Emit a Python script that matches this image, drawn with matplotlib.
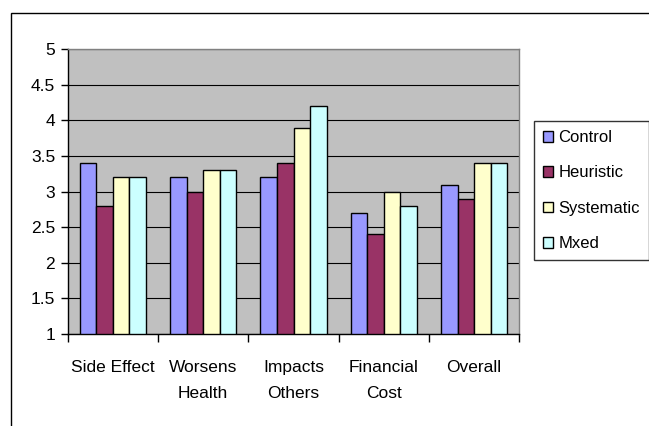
import matplotlib
matplotlib.use("Agg")
import matplotlib.pyplot as plt
import numpy as np
from matplotlib.patches import Rectangle

plt.rcParams['font.family'] = ['Liberation Sans', 'DejaVu Sans']

categories = ["Side Effect", "Worsens\nHealth", "Impacts\nOthers", "Financial\nCost", "Overall"]
series_names = ["Control", "Heuristic", "Systematic", "Mxed"]
control = [3.4, 3.2, 3.2, 2.7, 3.1]
heuristic = [2.8, 3.0, 3.4, 2.4, 2.9]
systematic = [3.2, 3.3, 3.9, 3.0, 3.4]
mixed = [3.2, 3.3, 4.2, 2.8, 3.4]
colors = ["#9999FF", "#993366", "#FFFFCC", "#CCFFFF"]
yticks = [1, 1.5, 2, 2.5, 3, 3.5, 4, 4.5, 5]
ytick_labels = ["1", "1.5", "2", "2.5", "3", "3.5", "4", "4.5", "5"]

FS = 12.5
W, H = 649, 426
fig = plt.figure(figsize=(W / 100, H / 100), dpi=100)
fig.patch.set_facecolor("white")

# outer chart border (right/bottom clipped off the image)
fig.patches.append(Rectangle((11 / W, -0.1), 1.2, 1 - 13 / H + 0.1, transform=fig.transFigure,
                             fill=False, edgecolor="black", linewidth=1.0))

left, right, top, bottom = 67.7, 519.3, 49.3, 334.0
ax = fig.add_axes([left / W, 1 - bottom / H, (right - left) / W, (bottom - top) / H])
ax.set_facecolor("#C0C0C0")

x = np.arange(len(categories))
bw = 0.183
data = [control, heuristic, systematic, mixed]
for i, (name, vals, c) in enumerate(zip(series_names, data, colors)):
    ax.bar(x + (i - 1.5) * bw, np.array(vals) - 1, bottom=1, width=bw, color=c,
           edgecolor="black", linewidth=1.0, label=name, zorder=3)

ax.set_xlim(-0.5, len(categories) - 0.5)
ax.set_ylim(1, 5)
ax.set_yticks(yticks)
ax.set_yticklabels(ytick_labels, fontsize=FS)
ax.yaxis.grid(True, color="black", linewidth=0.8, zorder=1)
ax.set_axisbelow(True)

ax.set_xticks(np.arange(len(categories) + 1) - 0.5)
ax.set_xticklabels([])
ax.set_xticks(x, minor=True)
ax.set_xticklabels(categories, minor=True, fontsize=FS, linespacing=1.85)
ax.tick_params(axis="x", which="minor", length=0, pad=19)
ax.tick_params(axis="x", which="major", length=6, width=1, color="black", direction="out")
ax.tick_params(axis="y", length=5, width=1, color="black", direction="out", pad=4)

for s in ["top", "right"]:
    ax.spines[s].set_color("#808080")
    ax.spines[s].set_linewidth(1.0)
for s in ["left", "bottom"]:
    ax.spines[s].set_color("black")
    ax.spines[s].set_linewidth(1.0)

handles, labels = ax.get_legend_handles_labels()
leg = fig.legend(handles, labels, loc="upper left",
                 bbox_to_anchor=(534 / W, 1 - 121 / H), fontsize=12,
                 frameon=True, fancybox=False, edgecolor="black",
                 handlelength=0.6, handleheight=0.6, handletextpad=0.3,
                 labelspacing=1.22, borderpad=0.55, borderaxespad=0)
leg.get_frame().set_linewidth(1.0)

fig.savefig("out.png", dpi=100)
